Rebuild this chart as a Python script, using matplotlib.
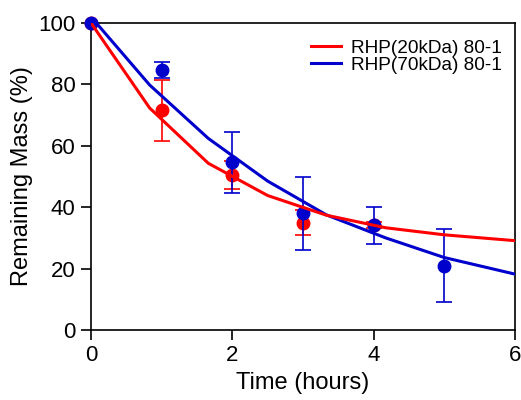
import numpy as np
import matplotlib
matplotlib.use('Agg')
import matplotlib.pyplot as plt

plt.rcParams['font.family'] = ['Liberation Sans', 'DejaVu Sans']

# measured points (mean, error)
t_red = [0, 1, 2, 3, 4]
m_red = [100, 71.5, 50.5, 35.0, 34.1]
e_red = [0, 10.0, 4.6, 4.2, 1.0]

t_blue = [0, 1, 2, 3, 4, 5]
m_blue = [100, 84.7, 54.6, 38.0, 34.1, 21.0]
e_blue = [0, 2.6, 10.0, 12.0, 6.0, 12.0]

# model curves
fit_t = [0, 0.83, 1.66, 2.5, 3.33, 4.17, 5.0, 6.0]
fit_red = [100, 72.3, 54.3, 43.8, 37.4, 33.3, 31.0, 29.1]
fit_blue = [102, 79.8, 62.4, 48.5, 37.5, 30.0, 23.6, 18.2]

red = '#ff0000'
blue = '#0000cc'

fig = plt.figure(figsize=(5.21, 4.0), dpi=100)
ax = fig.add_axes([0.1747, 0.175, 0.8138, 0.7675])

ax.errorbar(t_red, m_red, yerr=e_red, fmt='none', ecolor=red,
            elinewidth=1.2, capsize=6, capthick=1.2, zorder=2)
ax.plot(t_red, m_red, 'o', color=red, ms=9, clip_on=False, zorder=2)
ax.errorbar(t_blue, m_blue, yerr=e_blue, fmt='none', ecolor=blue,
            elinewidth=1.2, capsize=6, capthick=1.2, zorder=3)
ax.plot(t_blue, m_blue, 'o', color=blue, ms=9, clip_on=False, zorder=3)
ax.plot(fit_t, fit_blue, color=blue, lw=2.2, label='RHP(70kDa) 80-1', zorder=4)
ax.plot(fit_t, fit_red, color=red, lw=2.2, label='RHP(20kDa) 80-1', zorder=5)

ax.set_xlim(0, 6)
ax.set_ylim(0, 100)
ax.set_xticks([0, 2, 4, 6])
ax.set_yticks([0, 20, 40, 60, 80, 100])
ax.tick_params(direction='out', length=7, width=1.2, labelsize=16, pad=4)
for s in ax.spines.values():
    s.set_linewidth(1.2)

ax.set_xlabel('Time (hours)', fontsize=17, labelpad=4)
ax.set_ylabel('Remaining Mass (%)', fontsize=17, labelpad=4)

h, l = ax.get_legend_handles_labels()
ax.legend(h[::-1], l[::-1], loc='upper right', frameon=False, fontsize=13.7,
          handlelength=1.6, handletextpad=0.5, labelspacing=0.0,
          bbox_to_anchor=(1.0, 0.99), borderaxespad=0.3)

fig.savefig('out.png', dpi=100)
